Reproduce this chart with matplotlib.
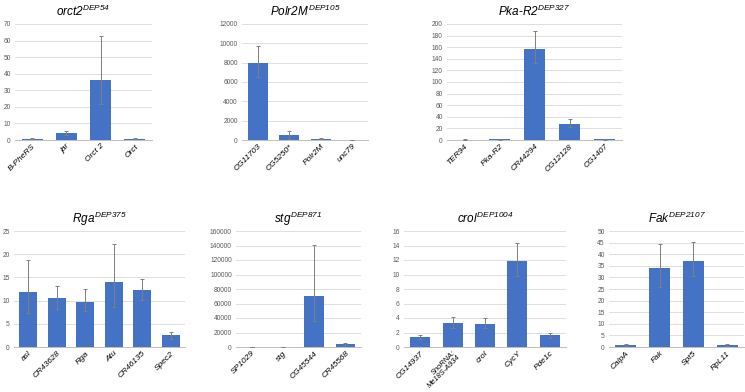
import numpy as np
import matplotlib.pyplot as plt

plt.rcParams['mathtext.fontset'] = 'custom'
plt.rcParams['mathtext.rm'] = 'Liberation Sans:italic'
plt.rcParams['mathtext.it'] = 'Liberation Sans:italic'
plt.rcParams['font.family'] = ['Liberation Sans', 'DejaVu Sans']

# ---- data per panel (values, upper error end, lower error end) ----
orct2_genes = ['B-PheRS', 'jar', 'Orct 2', 'Orct']
orct2_vals = [0.8, 4.2, 36.5, 0.8]
orct2_hi = [1.2, 5.4, 62.5, 1.1]
orct2_lo = [0.5, 3.2, 21.5, 0.5]

polr2m_genes = ['CG11703', 'CG5250*', 'Polr2M', 'unc79']
polr2m_vals = [8000, 480, 150, 10]
polr2m_hi = [9700, 950, 230, 15]
polr2m_lo = [6500, 60, 90, 5]

pkar2_genes = ['TER94', 'Pka-R2', 'CR44294', 'CG12128', 'CG1407']
pkar2_vals = [0.6, 1.0, 157, 27.5, 1.0]
pkar2_hi = [0.9, 1.5, 188, 37, 1.4]
pkar2_lo = [0.3, 0.6, 132, 22, 0.6]

rga_genes = ['asl', 'CR43628', 'Rga', 'Atu', 'CR46135', 'Spec2']
rga_vals = [11.8, 10.5, 9.8, 14.0, 12.2, 2.5]
rga_hi = [18.8, 13.2, 12.4, 22.3, 14.6, 3.3]
rga_lo = [7.4, 8.2, 7.7, 8.7, 10.2, 1.8]

stg_genes = ['SP1029', 'stg', 'CG45544', 'CR45568']
stg_vals = [100, 250, 70500, 4500]
stg_hi = [150, 350, 140500, 6000]
stg_lo = [60, 150, 36000, 3000]

crol_genes = ['CG14937', 'SnoRNA:\nMe18S-A934', 'crol', 'CycY', 'Pde1c']
crol_vals = [1.4, 3.3, 3.2, 11.8, 1.6]
crol_hi = [1.7, 4.2, 4.0, 14.3, 1.9]
crol_lo = [1.1, 2.6, 2.6, 9.8, 1.3]

fak_genes = ['CalpA', 'Fak', 'Spt5', 'RpL11']
fak_vals = [1.0, 34.0, 37.2, 0.9]
fak_hi = [1.5, 44.5, 45.2, 1.3]
fak_lo = [0.6, 26.0, 30.5, 0.5]

W, H = 745, 392
fig = plt.figure(figsize=(W / 100, H / 100), dpi=100)

panels = [
    # title, genes, vals, hi, lo, ymax, ystep, (x0, x1, ytop, ybot) in px
    (r'$orct2^{DEP54}$', orct2_genes, orct2_vals, orct2_hi, orct2_lo, 70, 10, (15, 152, 24, 140)),
    (r'$Polr2M^{DEP105}$', polr2m_genes, polr2m_vals, polr2m_hi, polr2m_lo, 12000, 2000, (242, 368, 24, 140)),
    (r'$Pka$-$R2^{DEP327}$', pkar2_genes, pkar2_vals, pkar2_hi, pkar2_lo, 200, 20, (447, 622, 24, 140)),
    (r'$Rga^{DEP375}$', rga_genes, rga_vals, rga_hi, rga_lo, 25, 5, (14, 185, 231, 347)),
    (r'$stg^{DEP871}$', stg_genes, stg_vals, stg_hi, stg_lo, 160000, 20000, (236, 361, 231, 347)),
    (r'$crol^{DEP1004}$', crol_genes, crol_vals, crol_hi, crol_lo, 16, 2, (404, 566, 231, 347)),
    (r'$Fak^{DEP2107}$', fak_genes, fak_vals, fak_hi, fak_lo, 50, 5, (609, 744, 231, 347)),
]

bar_color = '#4472C4'
for title, genes, vals, hi, lo, ymax, ystep, (x0, x1, yt, yb) in panels:
    ax = fig.add_axes([x0 / W, 1 - yb / H, (x1 - x0) / W, (yb - yt) / H])
    x = np.arange(len(genes))
    vals = np.array(vals, dtype=float)
    err = [vals - np.array(lo), np.array(hi) - vals]
    ax.bar(x, vals, width=0.62, color=bar_color, zorder=2)
    ax.errorbar(x, vals, yerr=err, fmt='none', ecolor='#7F7F7F',
                elinewidth=0.7, capsize=1.5, capthick=0.7, zorder=3)
    ax.set_xlim(-0.5, len(genes) - 0.5)
    ax.set_ylim(0, ymax)
    ax.set_yticks(np.arange(0, ymax + ystep / 2, ystep))
    ax.grid(axis='y', color='#D9D9D9', linewidth=0.6, zorder=0)
    ax.set_axisbelow(True)
    for s in ['top', 'right', 'left']:
        ax.spines[s].set_visible(False)
    ax.spines['bottom'].set_color('#BFBFBF')
    ax.spines['bottom'].set_linewidth(0.7)
    ax.tick_params(axis='y', length=0, labelsize=4.8, labelcolor='#595959', pad=3)
    ax.tick_params(axis='x', length=0, pad=2)
    ax.set_xticks(x)
    labels = ax.set_xticklabels(genes, rotation=45, ha='right', rotation_mode='anchor',
                                fontsize=6, fontstyle='italic', linespacing=0.85)
    for lab in labels:
        if '\n' in lab.get_text():
            lab.set_fontsize(5.4)
            lab.set_linespacing(0.8)
    ax.set_title(title, fontsize=8.5, pad=6)

fig.savefig('out.png', dpi=100, facecolor='white')
